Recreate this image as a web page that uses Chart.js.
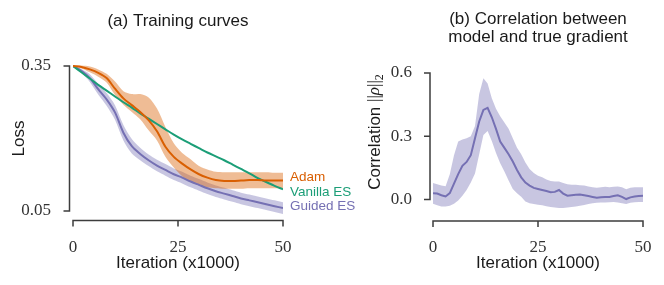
<!DOCTYPE html>
<html>
<head>
<meta charset="utf-8">
<script src="https://cdn.jsdelivr.net/npm/chart.js@4.4.1/dist/chart.umd.min.js"></script>
<style>
  html, body { margin: 0; padding: 0; background: #fff; overflow: hidden; }
  #wrap { position: relative; width: 664px; height: 285px; overflow: hidden; }
  .panel { position: absolute; top: 0; height: 285px; }
</style>
</head>
<body>
<div id="wrap">
  <div class="panel" style="left:0;width:360px"><canvas id="left"></canvas></div>
  <div class="panel" style="left:360px;width:318px"><canvas id="right"></canvas></div>
</div>
<script>
// ---- data: (a) training curves, iteration in thousands
const iterL = [0,2,4,6,8,10,12,14,16,18,20,22,24,26,28,30,32,34,36,38,40,42,44,46,48,50];
const adam     = [0.350,0.348,0.343,0.336,0.325,0.303,0.283,0.269,0.255,0.238,0.215,0.183,0.162,0.148,0.136,0.126,0.119,0.114,0.112,0.112,0.113,0.114,0.114,0.113,0.113,0.113];
const adamHi   = [0.351,0.351,0.349,0.343,0.334,0.318,0.298,0.292,0.292,0.285,0.262,0.224,0.190,0.170,0.157,0.143,0.136,0.131,0.130,0.130,0.130,0.130,0.130,0.130,0.129,0.129];
const adamLo   = [0.349,0.345,0.337,0.328,0.316,0.290,0.270,0.255,0.240,0.217,0.196,0.162,0.140,0.122,0.110,0.103,0.099,0.097,0.096,0.096,0.096,0.097,0.097,0.097,0.097,0.097];
const vanilla  = [0.350,0.337,0.324,0.311,0.299,0.287,0.275,0.264,0.252,0.241,0.230,0.219,0.208,0.198,0.189,0.180,0.171,0.163,0.155,0.146,0.137,0.128,0.118,0.110,0.102,0.095];
const guided   = [0.350,0.340,0.325,0.302,0.281,0.254,0.212,0.184,0.168,0.155,0.144,0.135,0.126,0.119,0.111,0.104,0.097,0.091,0.086,0.081,0.076,0.072,0.068,0.064,0.060,0.056];
const guidedHi = [0.351,0.344,0.333,0.313,0.294,0.269,0.228,0.199,0.181,0.167,0.156,0.147,0.138,0.131,0.123,0.116,0.109,0.103,0.098,0.093,0.088,0.084,0.080,0.076,0.072,0.068];
const guidedLo = [0.349,0.336,0.317,0.291,0.268,0.239,0.196,0.169,0.155,0.143,0.132,0.123,0.114,0.107,0.099,0.092,0.085,0.079,0.074,0.069,0.064,0.060,0.056,0.052,0.048,0.044];

// ---- data: (b) correlation between model and true gradient
const iterR = [0,1,2,3,4,5,6,7,8,9,10,11,12,13,14,15,16,17,18,19,20,21,22,23,24,25,26,27,28,29,30,31,32,33,34,35,36,37,38,39,40,41,42,43,44,45,46,47,48,49,50];
const corr   = [0.030,0.028,0.020,0.014,0.030,0.075,0.120,0.160,0.178,0.210,0.290,0.370,0.425,0.435,0.390,0.335,0.275,0.245,0.215,0.180,0.140,0.105,0.080,0.066,0.055,0.050,0.045,0.040,0.034,0.036,0.045,0.028,0.018,0.020,0.022,0.024,0.020,0.016,0.012,0.008,0.010,0.012,0.012,0.016,0.020,0.012,0.002,0.010,0.014,0.016,0.018];
const corrHi = [0.078,0.072,0.066,0.063,0.120,0.210,0.275,0.285,0.290,0.300,0.348,0.500,0.575,0.550,0.480,0.430,0.395,0.365,0.335,0.290,0.245,0.215,0.175,0.145,0.125,0.112,0.105,0.095,0.088,0.085,0.085,0.078,0.072,0.070,0.070,0.068,0.066,0.062,0.058,0.055,0.058,0.060,0.058,0.060,0.062,0.058,0.048,0.055,0.058,0.058,0.058];
const corrLo = [-0.020,-0.028,-0.034,-0.034,-0.030,-0.020,-0.005,0.018,0.045,0.080,0.123,0.215,0.306,0.325,0.277,0.220,0.172,0.133,0.090,0.050,0.030,0.013,-0.010,-0.018,-0.022,-0.025,-0.028,-0.032,-0.036,-0.038,-0.040,-0.040,-0.038,-0.036,-0.034,-0.030,-0.026,-0.022,-0.018,-0.016,-0.015,-0.014,-0.013,-0.012,-0.014,-0.018,-0.022,-0.016,-0.013,-0.012,-0.012];

// ---- ticks
const xTicks = [0, 25, 50];
const yTicksL = [0.35, 0.05];
const yTickLabelsL = ['0.35', '0.05'];
const yTicksR = [0.6, 0.3, 0.0];
const yTickLabelsR = ['0.6', '0.3', '0.0'];

const ORANGE = '#d95f02', GREEN = '#1b9e77', PURPLE = '#7570b3';
const SANS = '"Liberation Sans", Arial, sans-serif';
const SERIF = '"Liberation Serif", "Times New Roman", serif';

function pts(xs, ys) { return xs.map((x, i) => ({x: x, y: ys[i]})); }

function line(data, color) {
  return {data: data, borderColor: color, borderWidth: 2, pointRadius: 0, tension: 0.3, fill: false, order: 0};
}
function band(hi, lo, fillColor) {
  return [
    {data: hi, borderWidth: 0, pointRadius: 0, tension: 0.3, fill: '+1', backgroundColor: fillColor, order: 1},
    {data: lo, borderWidth: 0, pointRadius: 0, tension: 0.3, fill: false, order: 1}
  ];
}

// spines, tick marks, titles and end labels
const decor = {
  id: 'decor',
  afterDraw(chart, args, o) {
    const ctx = chart.ctx, xs = chart.scales.x, ys = chart.scales.y;
    ctx.save();
    ctx.strokeStyle = '#3d3d3d';
    ctx.lineWidth = 1.5;
    ctx.beginPath();
    const ya = ys.getPixelForValue(o.yTicks[0]), yb = ys.getPixelForValue(o.yTicks[o.yTicks.length - 1]);
    ctx.moveTo(o.ySpineX, ya); ctx.lineTo(o.ySpineX, yb);
    o.yTicks.forEach(v => { const p = ys.getPixelForValue(v); ctx.moveTo(o.ySpineX - 6, p); ctx.lineTo(o.ySpineX + 0.75, p); });
    const xa = xs.getPixelForValue(xTicks[0]), xb = xs.getPixelForValue(xTicks[xTicks.length - 1]);
    ctx.moveTo(xa, o.xSpineY); ctx.lineTo(xb, o.xSpineY);
    xTicks.forEach(v => { const p = xs.getPixelForValue(v); ctx.moveTo(p, o.xSpineY - 0.75); ctx.lineTo(p, o.xSpineY + 6); });
    ctx.stroke();

    ctx.fillStyle = '#1a1a1a';
    ctx.font = '17px ' + SANS;
    ctx.textAlign = 'center';
    ctx.textBaseline = 'middle';
    o.title.forEach((t, i) => ctx.fillText(t, o.titleX, o.titleY + i * 18));

    (o.labels || []).forEach(l => {
      ctx.fillStyle = l.color;
      ctx.font = '13.5px ' + SANS;
      ctx.textAlign = 'left';
      ctx.fillText(l.text, o.labelX, ys.getPixelForValue(l.y));
    });

    if (o.yTitle) {
      // "Correlation ||rho||_2" with the math part in serif
      ctx.translate(o.yTitle.x, o.yTitle.y);
      ctx.rotate(-Math.PI / 2);
      const parts = [
        ['Correlation ', '17px ' + SANS, 0],
        ['||', '17px ' + SERIF, 0],
        ['\u03c1', 'italic 17px ' + SERIF, 0],
        ['||', '17px ' + SERIF, 0],
        ['2', '12px ' + SERIF, 5]
      ];
      let total = 0;
      parts.forEach(p => { ctx.font = p[1]; total += ctx.measureText(p[0]).width; });
      let x = -total / 2;
      ctx.fillStyle = '#1a1a1a';
      ctx.textAlign = 'left';
      parts.forEach(p => { ctx.font = p[1]; ctx.fillText(p[0], x, p[2]); x += ctx.measureText(p[0]).width; });
    }
    ctx.restore();
  }
};

function makeOptions(c) {
  return {
    responsive: true,
    maintainAspectRatio: false,
    animation: false,
    layout: {padding: c.pad},
    plugins: {legend: {display: false}, tooltip: {enabled: false}, decor: c.decor},
    scales: {
      x: {
        type: 'linear', min: 0, max: 50,
        afterBuildTicks: s => { s.ticks = xTicks.map(v => ({value: v})); },
        afterFit: s => { s.height = c.xH; },
        grid: {display: false, drawTicks: false},
        border: {display: false},
        ticks: {padding: c.xPad, color: '#333', font: {family: SERIF, size: 17}, maxRotation: 0, autoSkip: false},
        title: {display: true, text: 'Iteration (x1000)', color: '#1a1a1a', font: {family: SANS, size: 17}, padding: {top: 0, bottom: 11.8}}
      },
      y: {
        type: 'linear', min: c.yMin, max: c.yMax,
        afterBuildTicks: s => { s.ticks = c.yTicks.map(v => ({value: v})); },
        afterFit: s => { s.width = c.yW; },
        grid: {display: false, drawTicks: false},
        border: {display: false},
        ticks: {
          padding: c.yPad, color: '#333', font: {family: SERIF, size: 17},
          callback: v => { const i = c.yTicks.findIndex(t => Math.abs(t - v) < 1e-9); return i < 0 ? '' : c.yLabels[i]; }
        },
        title: c.yTitle
      }
    }
  };
}

new Chart(document.getElementById('left'), {
  type: 'line',
  data: {
    datasets: [
      line(pts(iterL, adam), ORANGE),
      line(pts(iterL, vanilla), GREEN),
      line(pts(iterL, guided), PURPLE),
      ...band(pts(iterL, adamHi), pts(iterL, adamLo), 'rgba(217,95,2,0.42)'),
      ...band(pts(iterL, guidedHi), pts(iterL, guidedLo), 'rgba(117,112,179,0.4)')
    ]
  },
  options: makeOptions({
    pad: {top: 61.17, right: 77, bottom: 0, left: 0},
    xH: 285 - 215.83, yW: 73, xPad: 22, yPad: 22,
    yMin: 0.04, yMax: 0.36, yTicks: yTicksL, yLabels: yTickLabelsL,
    yTitle: {display: true, text: 'Loss', color: '#1a1a1a', font: {family: SANS, size: 17}, padding: {top: 8.8, bottom: 0}},
    decor: {
      ySpineX: 69.5, xSpineY: 220.5, yTicks: yTicksL,
      title: ['(a) Training curves'], titleX: 178, titleY: 21.5,
      labelX: 290,
      labels: [
        {text: 'Adam', color: ORANGE, y: 0.1203},
        {text: 'Vanilla ES', color: GREEN, y: 0.0893},
        {text: 'Guided ES', color: PURPLE, y: 0.0593}
      ]
    }
  }),
  plugins: [decor]
});

const rightDatasets = [line(pts(iterR, corr), PURPLE), ...band(pts(iterR, corrHi), pts(iterR, corrLo), 'rgba(117,112,179,0.4)')];
rightDatasets.forEach(d => { d.tension = 0; });

new Chart(document.getElementById('right'), {
  type: 'line',
  data: {datasets: rightDatasets},
  options: makeOptions({
    pad: {top: 66.7, right: 35, bottom: 0, left: 0},
    xH: 285 - 212.1, yW: 73, xPad: 25.7, yPad: 21,
    yMin: -0.06, yMax: 0.63, yTicks: yTicksR, yLabels: yTickLabelsR,
    yTitle: {display: false},
    decor: {
      ySpineX: 70, xSpineY: 221, yTicks: yTicksR,
      title: ['(b) Correlation between', 'model and true gradient'], titleX: 178, titleY: 19,
      yTitle: {x: 15, y: 132}
    }
  }),
  plugins: [decor]
});
</script>
</body>
</html>
